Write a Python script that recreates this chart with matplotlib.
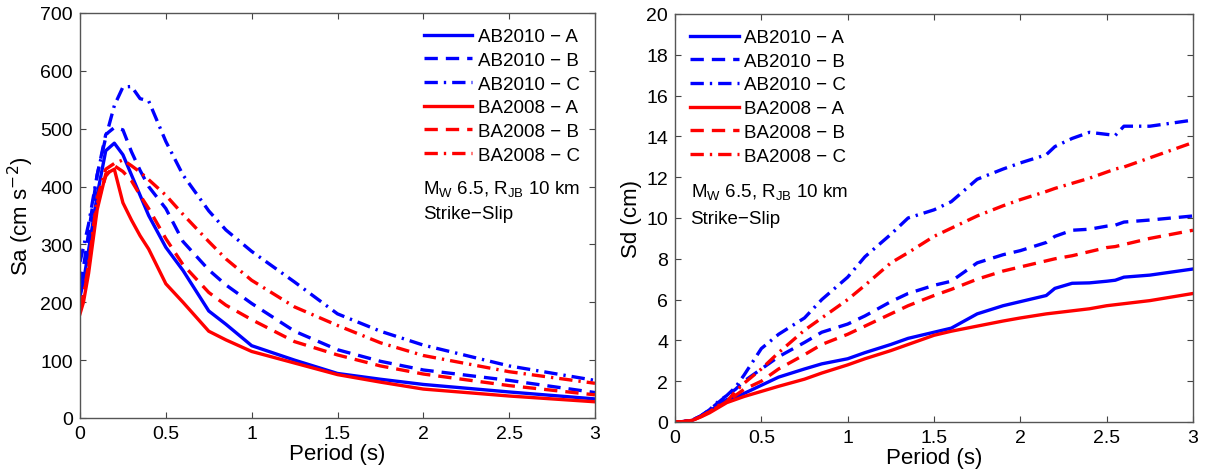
import matplotlib
matplotlib.use("Agg")
import matplotlib.pyplot as plt

plt.rcParams['font.family'] = ['Liberation Sans', 'DejaVu Sans']

# ---------------- Data: spectral acceleration (left) ----------------
T_sa = [0.0, 0.02, 0.05, 0.1, 0.15, 0.2, 0.25, 0.3, 0.35, 0.4, 0.5, 0.6, 0.75, 0.85,
        1.0, 1.25, 1.5, 1.75, 2.0, 2.5, 3.0]
sa_ab_a = [210, 235, 290, 385, 462, 475, 455, 420, 385, 350, 295, 255, 185, 162,
           125, 100, 77, 67, 58, 45, 33]
sa_ab_b = [230, 260, 320, 420, 490, 502, 498, 460, 428, 400, 362, 305, 256, 230,
           198, 150, 118, 98, 83, 65, 44]
sa_ab_c = [270, 295, 335, 420, 485, 540, 572, 573, 552, 548, 478, 420, 358, 325,
           288, 235, 180, 150, 126, 90, 65]
sa_ba_a = [180, 200, 250, 360, 422, 430, 372, 342, 315, 292, 232, 200, 150, 135,
           115, 95, 75, 62, 50, 38, 28]
sa_ba_b = [190, 210, 260, 370, 418, 436, 426, 410, 385, 362, 310, 265, 217, 195,
           170, 132, 109, 90, 76, 56, 40]
sa_ba_c = [190, 212, 265, 380, 430, 440, 446, 436, 425, 412, 385, 352, 305, 275,
           238, 192, 160, 130, 108, 80, 60]

# ---------------- Data: spectral displacement (right) ----------------
T_sd = [0.0, 0.05, 0.1, 0.15, 0.2, 0.25, 0.3, 0.35, 0.4, 0.5, 0.6, 0.75, 0.85, 1.0,
        1.1, 1.25, 1.35, 1.5, 1.6, 1.75, 1.9, 2.0, 2.15, 2.2, 2.3, 2.4, 2.5, 2.55,
        2.6, 2.75, 3.0]
sd_ab_a = [0.0, 0.02, 0.08, 0.3, 0.55, 0.8, 1.1, 1.2, 1.4, 1.8, 2.2, 2.6, 2.85, 3.1,
           3.4, 3.8, 4.1, 4.4, 4.6, 5.3, 5.7, 5.9, 6.2, 6.55, 6.8, 6.82, 6.9, 6.95,
           7.1, 7.2, 7.5]
sd_ab_b = [0.0, 0.02, 0.1, 0.3, 0.6, 0.95, 1.3, 1.6, 2.0, 2.6, 3.2, 3.9, 4.4, 4.8,
           5.2, 5.9, 6.3, 6.7, 6.9, 7.8, 8.2, 8.4, 8.8, 9.1, 9.4, 9.45, 9.6, 9.65,
           9.8, 9.9, 10.1]
sd_ab_c = [0.0, 0.02, 0.1, 0.3, 0.6, 1.0, 1.3, 1.7, 2.3, 3.6, 4.3, 5.1, 6.0, 7.1,
           8.1, 9.2, 10.0, 10.4, 10.8, 11.9, 12.4, 12.7, 13.1, 13.5, 13.9, 14.2, 14.1,
           14.05, 14.5, 14.5, 14.8]
sd_ba_a = [0.0, 0.02, 0.08, 0.25, 0.45, 0.7, 0.95, 1.1, 1.25, 1.5, 1.75, 2.1, 2.4, 2.8,
           3.1, 3.5, 3.8, 4.25, 4.45, 4.7, 4.95, 5.1, 5.3, 5.35, 5.45, 5.55, 5.7, 5.75,
           5.8, 5.95, 6.3]
sd_ba_b = [0.0, 0.02, 0.08, 0.27, 0.5, 0.75, 1.0, 1.3, 1.6, 2.0, 2.6, 3.3, 3.8, 4.3,
           4.7, 5.3, 5.7, 6.2, 6.5, 7.0, 7.4, 7.6, 7.9, 8.0, 8.15, 8.35, 8.55, 8.6,
           8.7, 9.0, 9.4]
sd_ba_c = [0.0, 0.02, 0.08, 0.27, 0.5, 0.8, 1.0, 1.5, 1.9, 2.6, 3.4, 4.5, 5.1, 6.0,
           6.7, 7.8, 8.3, 9.1, 9.5, 10.1, 10.6, 10.9, 11.3, 11.45, 11.7, 11.95, 12.25, 12.4,
           12.5, 12.95, 13.7]

labels = ["AB2010 \u2212 A", "AB2010 \u2212 B", "AB2010 \u2212 C",
          "BA2008 \u2212 A", "BA2008 \u2212 B", "BA2008 \u2212 C"]

BLUE = "#0000ff"
RED = "#ff0000"
SOLID = "-"
DASH = (0, (4.0, 2.4))
DASHDOT = (0, (4.0, 1.8, 0.7, 1.8))
styles = [(BLUE, SOLID), (BLUE, DASH), (BLUE, DASHDOT),
          (RED, SOLID), (RED, DASH), (RED, DASHDOT)]

W, H = 1205, 477
fig = plt.figure(figsize=(W / 100, H / 100), dpi=100)


def px_axes(x0, y0, x1, y1):
    return fig.add_axes([x0 / W, (H - y1) / H, (x1 - x0) / W, (y1 - y0) / H])


ax1 = px_axes(80, 14, 595, 419)
ax2 = px_axes(675, 15, 1193, 423)

for ax in (ax1, ax2):
    ax.tick_params(direction='in', top=True, right=True, length=4,
                   labelsize=14, color='#444444', pad=5)
    for s in ax.spines.values():
        s.set_color('#555555')
        s.set_linewidth(1.0)
    ax.set_xlim(0, 3)
    ax.set_xticks([0, 0.5, 1, 1.5, 2, 2.5, 3])
    ax.set_xticklabels(["0", "0.5", "1", "1.5", "2", "2.5", "3"])
    ax.set_xlabel("Period (s)", fontsize=16, labelpad=1)

sa_series = [sa_ab_a, sa_ab_b, sa_ab_c, sa_ba_a, sa_ba_b, sa_ba_c]
sd_series = [sd_ab_a, sd_ab_b, sd_ab_c, sd_ba_a, sd_ba_b, sd_ba_c]

for (c, ls), y, lab in zip(styles, sa_series, labels):
    ax1.plot(T_sa, y, color=c, linestyle=ls, linewidth=2.4, label=lab)
for (c, ls), y, lab in zip(styles, sd_series, labels):
    ax2.plot(T_sd, y, color=c, linestyle=ls, linewidth=2.4, label=lab)

ax1.set_ylim(0, 700)
ax1.set_yticks(range(0, 701, 100))
ax1.set_ylabel("Sa (cm s$^{-2}$)", fontsize=16, labelpad=3)
ax2.set_ylim(0, 20)
ax2.set_yticks(range(0, 21, 2))
ax2.set_ylabel("Sd (cm)", fontsize=16, labelpad=3)

leg_kw = dict(frameon=False, fontsize=13.5, handlelength=2.6, handletextpad=0.3,
              labelspacing=0.35, borderaxespad=0.4)
ax1.legend(loc='upper right', bbox_to_anchor=(1.0, 1.0), **leg_kw)
ax2.legend(loc='upper left', bbox_to_anchor=(0.0, 1.0), **leg_kw)

note1 = "M$_\\mathregular{W}$ 6.5, R$_\\mathregular{JB}$ 10 km"
ax1.text(0.666, 0.565, note1, transform=ax1.transAxes, fontsize=13.5, va='center')
ax1.text(0.666, 0.505, "Strike\u2212Slip", transform=ax1.transAxes, fontsize=13.5, va='center')
ax2.text(0.03, 0.565, note1, transform=ax2.transAxes, fontsize=13.5, va='center')
ax2.text(0.03, 0.5, "Strike\u2212Slip", transform=ax2.transAxes, fontsize=13.5, va='center')

fig.savefig("out.png", dpi=100)
